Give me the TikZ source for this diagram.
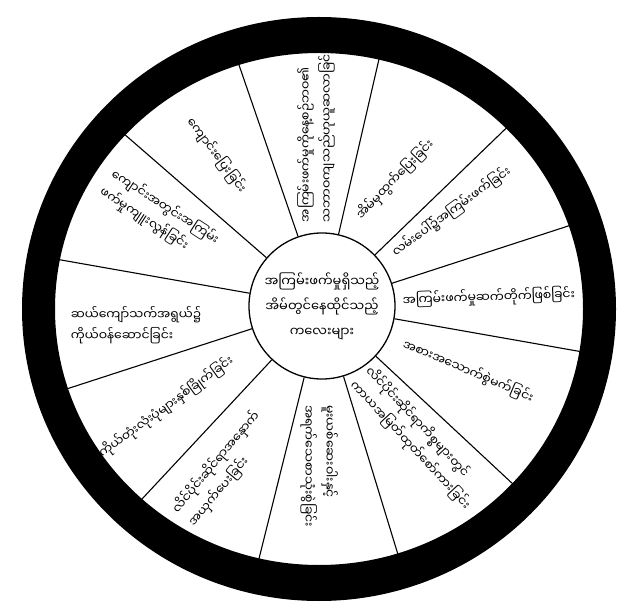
\documentclass[tikz,border=0pt]{standalone}
\usepackage{fontspec}
\newfontfamily\mmfont[Script=Myanmar]{Noto Sans Myanmar UI}
\usetikzlibrary{positioning}
\tikzset{
  hubbox/.style={circle, draw, line width=1.3pt, minimum size=146pt, inner sep=0pt, align=center, font=\mmfont\fontsize{13}{25}\selectfont},
  segtext/.style={inner sep=0pt, align=left, font=\mmfont\fontsize{12.4}{21}\selectfont},
  spoke/.style={line width=1.1pt},
}

\begin{document}
\begin{tikzpicture}[x=1pt, y=1pt]
  \useasboundingbox (0,0) rectangle (632,614);
  % hub in the middle
  \node[hubbox] (hub) at (322,308) {အကြမ်းဖက်မှုရှိသည့်\\အိမ်တွင်နေထိုင်သည့်\\ကလေးများ};
  % spokes, ends get covered by the ring
  \foreach \a in {18,44,77,109,139,170,198,227,256,287,317,350}
    \draw[spoke] (hub.\a) -- ([shift={(\a:275)}]hub.center);
  % outer ring
  \coordinate (ring) at (319,305);
  \fill[even odd rule] (ring) ellipse [x radius=297, y radius=292]
                       (ring) ellipse [x radius=264, y radius=256];
  % segment texts, clockwise from the right
  \node[segtext, rotate=2] (cycle) at ([shift={(3:167)}]hub.center) {အကြမ်းဖက်မှုဆက်တိုက်ဖြစ်ခြင်း};
  \node[segtext, rotate=36] (street) at ([shift={(36:160)}]hub.center) {လမ်းပေါ်၌အကြမ်းဖက်ခြင်း};
  \node[segtext, rotate=46] (runaway) at ([shift={(60:146)}]hub.center) {အိမ်မှထွက်ပြေးခြင်း};
  \node[segtext, rotate=90] (normal) at ([shift={(92:170)}]hub.center) {အကြမ်းဖက်မှုကိုနေ့စဉ်ဘဝ၏\\သဘာဝကျသည်ဟုယူဆလာခြင်း};
  \node[segtext, rotate=-53] (truant) at ([shift={(125:184)}]hub.center) {ကျောင်းပြေးခြင်း};
  \node[segtext, rotate=-33] (school) at ([shift={(151:186)}]hub.center) {ကျောင်းအတွင်းအကြမ်း\\ဖက်မှုကျူးလွန်ခြင်း};
  \node[segtext] (teen) at ([shift={(186:187)}]hub.center) {ဆယ်ကျော်သက်အရွယ်၌\\ကိုယ်ဝန်ဆောင်ခြင်း};
  \node[segtext, rotate=36] (nude) at ([shift={(213:186)}]hub.center) {ကိုယ်တုံးလုံးပုံများနှစ်ခြိုက်ခြင်း};
  \node[segtext, rotate=50] (harass) at ([shift={(239:190)}]hub.center) {လိင်ပိုင်းဆိုင်ရာအနှောက်\\အယှက်ပေးခြင်း};
  \node[segtext, rotate=-90] (drugs) at ([shift={(269:160)}]hub.center) {မူးယစ်ဆေးဝါးနှင့်\\အရက်သေစာသုံးစွဲခြင်း};
  \node[segtext, rotate=-47] (abuse) at ([shift={(-54:163)}]hub.center) {လိင်ပိုင်းဆိုင်ရာကိစ္စများတွင်\\ကာယအမြတ်ထုတ်စော်ကားခြင်း};
  \node[segtext, rotate=-23] (eating) at ([shift={(-24:160)}]hub.center) {အစားအသောက်စွဲမက်ခြင်း};
\end{tikzpicture}
\end{document}
